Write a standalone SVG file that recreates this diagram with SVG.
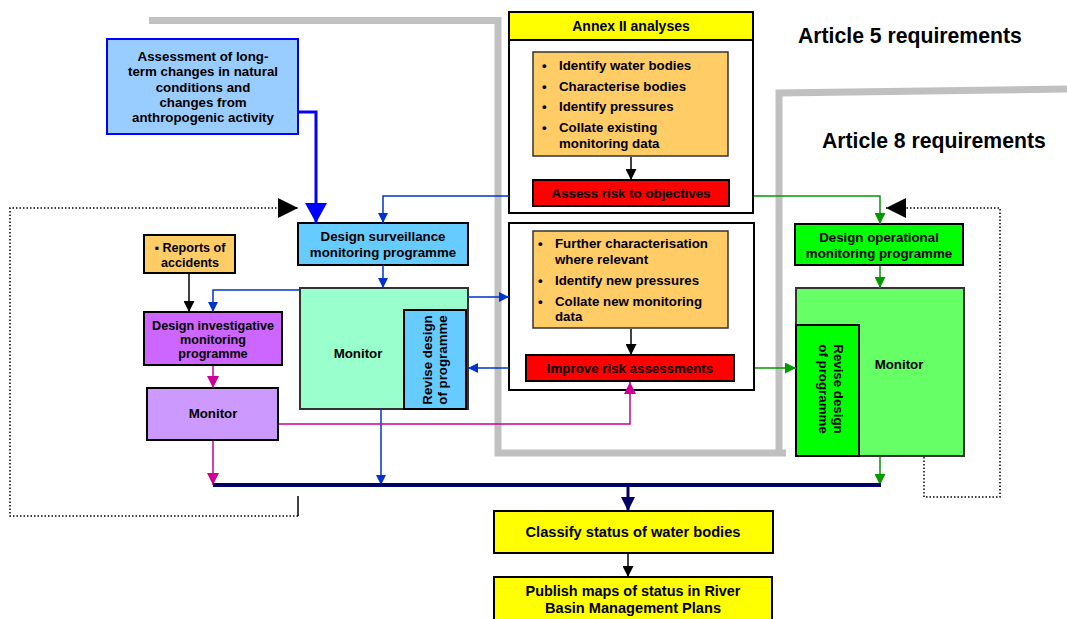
<svg xmlns="http://www.w3.org/2000/svg" width="1067" height="619" viewBox="0 0 1067 619">
<style>
text{font-family:"Liberation Sans",Arial,sans-serif;font-weight:bold;fill:#000}
.t{font-size:13.3px;text-anchor:middle}
.s{font-size:12.6px}
.b{font-size:13.3px}
.h{font-size:21.2px}
.big{font-size:14px;text-anchor:middle}
.box{stroke:#000;stroke-width:2}
.gray{fill:none;stroke:#C0C0C0;stroke-width:7}
.c{fill:none;stroke-width:1.5}
.blue{stroke:#0033CC}
.grn{stroke:#009900}
.mag{stroke:#CC0099}
.blk{stroke:#000}
.dot{fill:none;stroke:#000;stroke-width:1.5;stroke-dasharray:1.5 2}
</style>
<defs>
<marker id="ab" viewBox="0 0 10 10" refX="10" refY="5" markerWidth="10" markerHeight="10" markerUnits="userSpaceOnUse" orient="auto" preserveAspectRatio="none"><path d="M0,0L10,5L0,10z" fill="#0033CC"/></marker>
<marker id="abig" viewBox="0 0 10 10" refX="10" refY="5" markerWidth="20" markerHeight="22" markerUnits="userSpaceOnUse" orient="auto" preserveAspectRatio="none"><path d="M0,0L10,5L0,10z" fill="#0000FF"/></marker>
<marker id="ag" viewBox="0 0 10 10" refX="10" refY="5" markerWidth="11" markerHeight="11" markerUnits="userSpaceOnUse" orient="auto" preserveAspectRatio="none"><path d="M0,0L10,5L0,10z" fill="#009900"/></marker>
<marker id="am" viewBox="0 0 10 10" refX="10" refY="5" markerWidth="12" markerHeight="12" markerUnits="userSpaceOnUse" orient="auto" preserveAspectRatio="none"><path d="M0,0L10,5L0,10z" fill="#CC0099"/></marker>
<marker id="ak" viewBox="0 0 10 10" refX="10" refY="5" markerWidth="11" markerHeight="11" markerUnits="userSpaceOnUse" orient="auto" preserveAspectRatio="none"><path d="M0,0L10,5L0,10z" fill="#000"/></marker>
<marker id="akbig" viewBox="0 0 10 10" refX="10" refY="5" markerWidth="20" markerHeight="20" markerUnits="userSpaceOnUse" orient="auto" preserveAspectRatio="none"><path d="M0,0L10,5L0,10z" fill="#000"/></marker>
<marker id="an" viewBox="0 0 10 10" refX="10" refY="5" markerWidth="14" markerHeight="14" markerUnits="userSpaceOnUse" orient="auto" preserveAspectRatio="none"><path d="M0,0L10,5L0,10z" fill="#000066"/></marker>
</defs>
<rect width="1067" height="619" fill="#fff"/>

<g id="boundaries">
<path class="gray" d="M149,20.5H498V453H786"/>
<path class="gray" d="M779,456V93L1067,89"/>
</g>

<g id="labels">
<text class="h" x="798" y="43">Article 5 requirements</text>
<text class="h" x="822" y="148">Article 8 requirements</text>
</g>

<g id="assessment">
<rect x="107" y="39" width="191" height="95" fill="#99CCFF" stroke="#0000FF" stroke-width="2"/>
<text class="t" x="203" y="61">Assessment of long-</text>
<text class="t" x="203" y="76">term changes in natural</text>
<text class="t" x="203" y="92">conditions and</text>
<text class="t" x="203" y="107">changes from</text>
<text class="t" x="203" y="122">anthropogenic activity</text>
</g>

<g id="annex">
<rect class="box" x="509" y="12" width="244" height="201" fill="#fff"/>
<rect class="box" x="509" y="12" width="244" height="28" fill="#FFFF00"/>
<text class="t" x="631" y="31" style="font-size:14px">Annex II analyses</text>
<rect x="533" y="52" width="195" height="104" fill="#FFCC66" stroke="#333" stroke-width="1.5"/>
<text class="b" x="542" y="70">•</text><text class="b" x="559" y="70">Identify water bodies</text>
<text class="b" x="542" y="91">•</text><text class="b" x="559" y="91">Characterise bodies</text>
<text class="b" x="542" y="111">•</text><text class="b" x="559" y="111">Identify pressures</text>
<text class="b" x="542" y="132">•</text><text class="b" x="559" y="132">Collate existing</text>
<text class="b" x="559" y="148">monitoring data</text>
</g>

<g id="assess-risk">
<rect class="box" x="533" y="180" width="196" height="26" fill="#FF0000"/>
<text class="t" x="631" y="198">Assess risk to objectives</text>
</g>

<g id="annex-lower">
<rect class="box" x="509" y="223" width="245" height="167" fill="#fff"/>
<rect x="533" y="231" width="195" height="97" fill="#FFCC66" stroke="#333" stroke-width="1.5"/>
<text class="b" x="538" y="248">•</text><text class="b" x="555" y="248">Further characterisation</text>
<text class="b" x="555" y="264">where relevant</text>
<text class="b" x="538" y="285">•</text><text class="b" x="555" y="285">Identify new pressures</text>
<text class="b" x="538" y="306">•</text><text class="b" x="555" y="306">Collate new monitoring</text>
<text class="b" x="555" y="321">data</text>
</g>

<g id="improve-risk">
<rect class="box" x="526" y="355" width="208" height="26" fill="#FF0000"/>
<text class="t" x="630" y="373">Improve risk assessments</text>
</g>

<g id="surveillance">
<rect class="box" x="298" y="223" width="170" height="42" fill="#66CCFF"/>
<text class="t" x="383" y="241">Design surveillance</text>
<text class="t" x="383" y="257">monitoring programme</text>
</g>

<g id="monitor-surveillance">
<rect x="300" y="288" width="168" height="121" fill="#99FFCC" stroke="#333" stroke-width="2"/>
<text class="t" x="358" y="358">Monitor</text>
<rect class="box" x="404" y="310" width="62" height="99" fill="#66CCFF"/>
<text class="t" transform="translate(432,360) rotate(-90)">Revise design</text>
<text class="t" transform="translate(447,360) rotate(-90)">of programme</text>
</g>

<g id="reports">
<rect class="box" x="144" y="235" width="91" height="38" fill="#FFCC66"/>
<text class="t s" x="190" y="252">▪ Reports of</text>
<text class="t s" x="190" y="267">accidents</text>
</g>

<g id="investigative">
<rect class="box" x="144" y="312" width="138" height="53" fill="#CC66FF"/>
<text class="t s" x="213" y="330">Design investigative</text>
<text class="t s" x="213" y="344">monitoring</text>
<text class="t s" x="213" y="358">programme</text>
</g>

<g id="monitor-investigative">
<rect class="box" x="147" y="388" width="131" height="52" fill="#CC99FF"/>
<text class="t" x="213" y="418">Monitor</text>
</g>

<g id="operational">
<rect class="box" x="795" y="224" width="168" height="41" fill="#00FF00"/>
<text class="t" x="879" y="242">Design operational</text>
<text class="t" x="879" y="258">monitoring programme</text>
</g>

<g id="monitor-operational">
<rect x="796" y="288" width="168" height="168" fill="#66FF66" stroke="#333" stroke-width="2"/>
<text class="t" x="899" y="369">Monitor</text>
<rect class="box" x="796" y="325" width="63" height="131" fill="#00FF00"/>
<text class="t" transform="translate(834,389) rotate(90)">Revise design</text>
<text class="t" transform="translate(819,389) rotate(90)">of programme</text>
</g>

<g id="classify">
<rect class="box" x="494" y="511" width="279" height="42" fill="#FFFF00"/>
<text class="big" x="633" y="537" textLength="215" lengthAdjust="spacingAndGlyphs">Classify status of water bodies</text>
</g>

<g id="publish">
<rect class="box" x="494" y="577" width="278" height="50" fill="#FFFF00"/>
<text class="big" x="633" y="596" textLength="215" lengthAdjust="spacingAndGlyphs">Publish maps of status in River</text>
<text class="big" x="633" y="613" textLength="176" lengthAdjust="spacingAndGlyphs">Basin Management Plans</text>
</g>

<g id="connectors">
<path d="M298,112H316V223" fill="none" stroke="#0000FF" stroke-width="3" marker-end="url(#abig)"/>
<path class="dot" d="M298,516H10V208H298" marker-end="url(#akbig)"/>
<path d="M298,496V516" stroke="#000" stroke-width="1.5"/>
<path class="dot" d="M924,457V497H1000V208H886" marker-end="url(#akbig)"/>
<path class="c blue" d="M509,196H383V223" marker-end="url(#ab)"/>
<path class="c blue" d="M383,265V288" marker-end="url(#ab)"/>
<path class="c blue" d="M300,290H213V312" marker-end="url(#ab)"/>
<path class="c blue" d="M468,297H509" marker-end="url(#ab)"/>
<path class="c blue" d="M509,368H468" marker-end="url(#ab)"/>
<path class="c blue" d="M381,410V485" marker-end="url(#ab)"/>
<path class="c blk" d="M189,274V312" marker-end="url(#ak)"/>
<path class="c mag" d="M213,366V388" marker-end="url(#am)"/>
<path class="c mag" d="M213,441V485" marker-end="url(#am)"/>
<path class="c mag" d="M279,424H630V382" marker-end="url(#am)"/>
<path class="c grn" d="M754,196H880V224" marker-end="url(#ag)"/>
<path class="c grn" d="M880,266V288" marker-end="url(#ag)"/>
<path class="c grn" d="M755,368H796" marker-end="url(#ag)"/>
<path class="c grn" d="M880,457V485" marker-end="url(#ag)"/>
<path class="c blk" d="M631,157V180" marker-end="url(#ak)"/>
<path class="c blk" d="M631,329V355" marker-end="url(#ak)"/>
<path d="M213,485H881" stroke="#000066" stroke-width="4"/>
<path d="M628,486V511" stroke="#000066" stroke-width="3" marker-end="url(#an)"/>
<path class="c blk" d="M628,554V577" marker-end="url(#ak)"/>
</g>
</svg>
